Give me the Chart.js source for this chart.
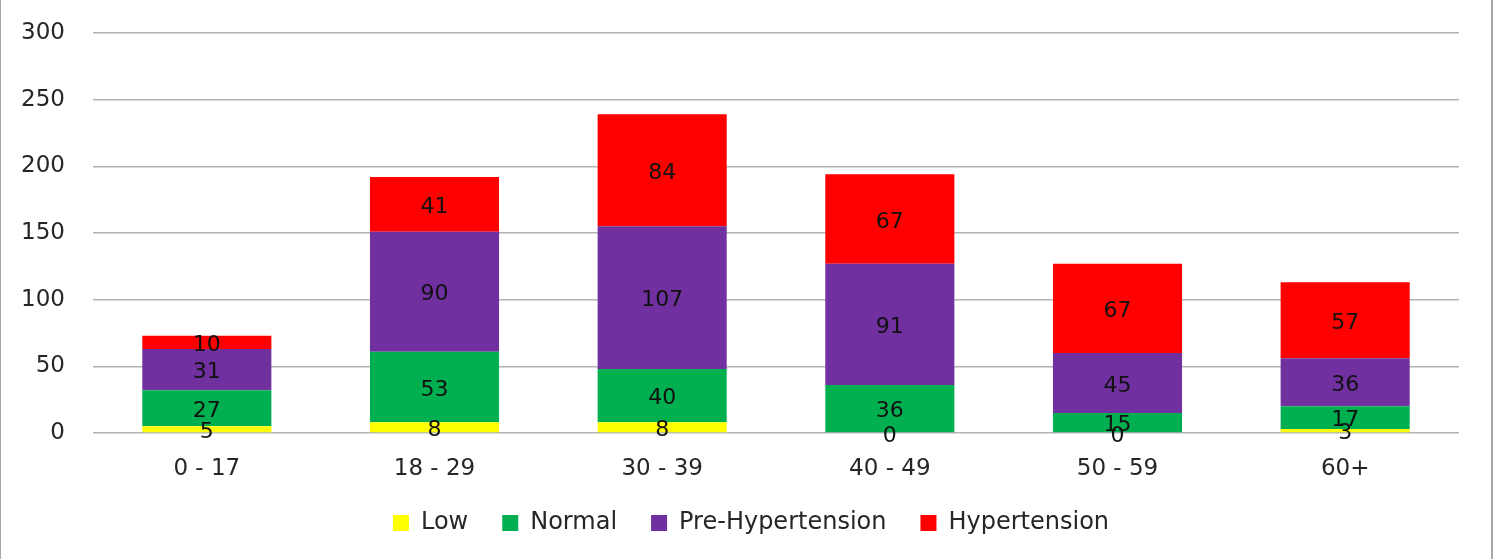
<!DOCTYPE html>
<html>
<head>
<meta charset="utf-8">
<title>Blood pressure by age group</title>
<script src="https://cdn.jsdelivr.net/npm/chart.js@4/dist/chart.umd.min.js"></script>
<style>
  html, body { margin: 0; padding: 0; background: #fff; }
  #wrap { position: relative; width: 1494px; height: 559px; }
  canvas { display: block; }
</style>
</head>
<body>
<div id="wrap"><canvas id="chart" width="1494" height="559"></canvas></div>
<script>
// Age groups and readings per blood-pressure class
const ageGroups = ['0 - 17', '18 - 29', '30 - 39', '40 - 49', '50 - 59', '60+'];
const low = [5, 8, 8, 0, 0, 3];
const normal = [27, 53, 40, 36, 15, 17];
const preHypertension = [31, 90, 107, 91, 45, 36];
const hypertension = [10, 41, 84, 67, 67, 57];
const yTicks = [0, 50, 100, 150, 200, 250, 300];

const FONT = 'DejaVu Sans';
const TEXT = '#262626';

// Writes each segment's value in the middle of its bar piece
const segmentLabels = {
  id: 'segmentLabels',
  afterDatasetsDraw(chart) {
    const ctx = chart.ctx;
    const size = 22;
    ctx.save();
    ctx.font = size + 'px "' + FONT + '"';
    ctx.fillStyle = '#111';
    ctx.textAlign = 'center';
    ctx.textBaseline = 'alphabetic';
    chart.data.datasets.forEach((ds, i) => {
      const meta = chart.getDatasetMeta(i);
      meta.data.forEach((bar, j) => {
        const p = bar.getProps(['x', 'y', 'base'], true);
        ctx.fillText(String(ds.data[j]), p.x, (p.y + p.base) / 2 + size * 0.4);
      });
    });
    ctx.restore();
  }
};

// Gives the category labels room below the axis band and centres the legend under the bars
const layoutTweaks = {
  id: 'layoutTweaks',
  afterLayout(chart) {
    chart.scales.x.bottom = chart.height;
    const shift = ((chart.chartArea.left + chart.chartArea.right) - (chart.legend.left + chart.legend.right)) / 2 - 25;
    chart.legend.left += shift;
    chart.legend.right += shift;
  }
};

// Thin grey frame on the left and right edges of the figure
const frame = {
  id: 'frame',
  afterDraw(chart) {
    const ctx = chart.ctx;
    ctx.save();
    ctx.fillStyle = '#a6a6a6';
    ctx.fillRect(0, 0, 1, chart.height);
    ctx.fillRect(chart.width - 3, 0, 2, chart.height);
    ctx.restore();
  }
};

new Chart(document.getElementById('chart'), {
  type: 'bar',
  data: {
    labels: ageGroups,
    datasets: [
      { label: 'Low', data: low, backgroundColor: '#FFFF00' },
      { label: 'Normal', data: normal, backgroundColor: '#00B050' },
      { label: 'Pre-Hypertension', data: preHypertension, backgroundColor: '#7030A0' },
      { label: 'Hypertension', data: hypertension, backgroundColor: '#FF0000' }
    ]
  },
  options: {
    responsive: false,
    animation: false,
    layout: { padding: { top: 33, right: 35, bottom: 14, left: 0 } },
    datasets: { bar: { barPercentage: 0.567, categoryPercentage: 1.0, borderWidth: 0 } },
    scales: {
      x: {
        stacked: true,
        grid: { display: false, drawTicks: false },
        border: { display: false },
        ticks: { color: TEXT, font: { family: FONT, size: 23 }, padding: 22, maxRotation: 0 },
        afterFit(scale) { scale.height = 44; }
      },
      y: {
        stacked: true,
        min: 0,
        max: 300,
        afterBuildTicks(scale) { scale.ticks = yTicks.map(v => ({ value: v })); },
        grid: { color: '#b3b3b3', lineWidth: 1.5, drawTicks: false },
        border: { display: false },
        ticks: { color: TEXT, font: { family: FONT, size: 23 }, padding: 28 },
        afterFit(scale) {
          scale.width = 93;
          scale.paddingTop = 0;
          scale.paddingBottom = 0;
        }
      }
    },
    plugins: {
      legend: {
        position: 'bottom',
        labels: {
          color: TEXT,
          font: { family: FONT, size: 24 },
          boxWidth: 16,
          boxHeight: 16,
          padding: 34
        }
      },
      tooltip: { enabled: false }
    }
  },
  plugins: [segmentLabels, layoutTweaks, frame]
});
</script>
</body>
</html>
